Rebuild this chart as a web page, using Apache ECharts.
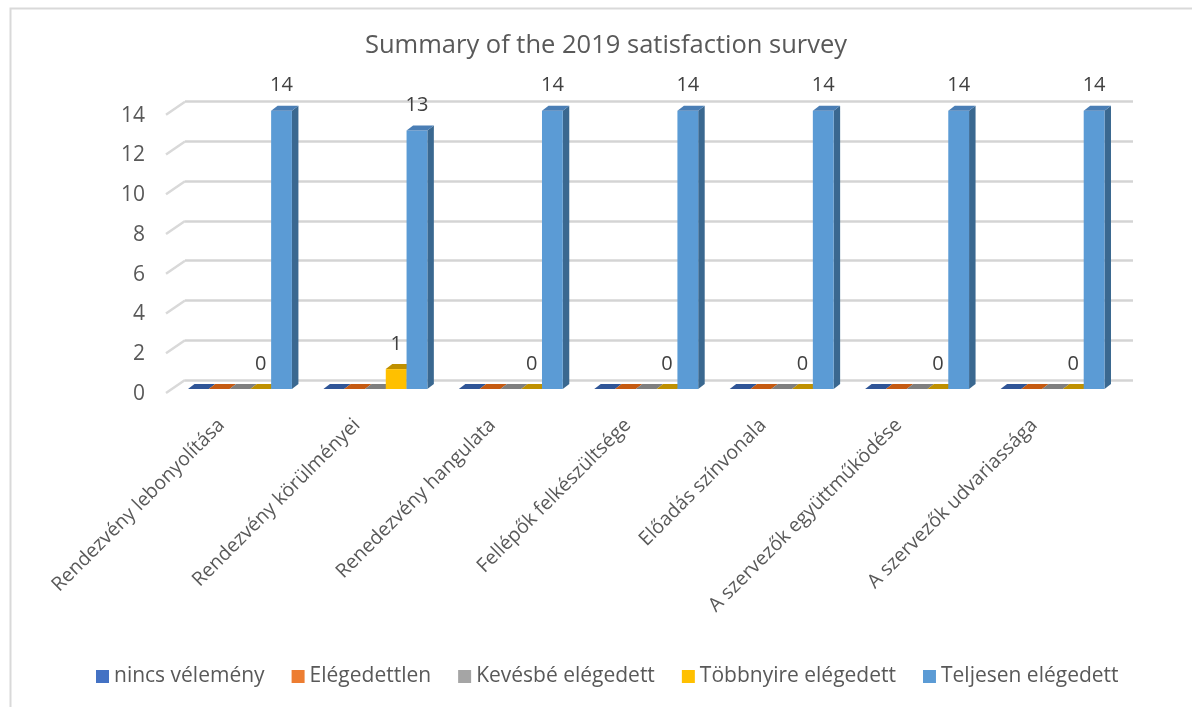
<!DOCTYPE html>
<html>
<head>
<meta charset="utf-8">
<script src="https://cdn.jsdelivr.net/npm/echarts@6/dist/echarts.min.js"></script>
<style>
  html, body { margin: 0; padding: 0; background: #ffffff; }
  #chart { width: 1192px; height: 707px; }
</style>
</head>
<body>
<div id="chart"></div>
<script>
// Survey categories (x axis)
const categories = [
  'Rendezvény lebonyolítása',
  'Rendezvény körülményei',
  'Renedezvény hangulata',
  'Fellépők felkészültsége',
  'Előadás színvonala',
  'A szervezők együttműködése',
  'A szervezők udvariassága'
];

// Answer counts per rating
const nincsVelemeny = [0, 0, 0, 0, 0, 0, 0];
const elegedettlen = [0, 0, 0, 0, 0, 0, 0];
const kevesbeElegedett = [0, 0, 0, 0, 0, 0, 0];
const tobbnyireElegedett = [0, 1, 0, 0, 0, 0, 0];
const teljesenElegedett = [14, 13, 14, 14, 14, 14, 14];

// Value axis ticks
const yTicks = [0, 2, 4, 6, 8, 10, 12, 14];

const seriesDefs = [
  { name: 'nincs vélemény', data: nincsVelemeny, front: '#4472C4', top: '#2F5597', side: '#2A4D8A', label: false },
  { name: 'Elégedettlen', data: elegedettlen, front: '#ED7D31', top: '#C55A11', side: '#A9500F', label: false },
  { name: 'Kevésbé elégedett', data: kevesbeElegedett, front: '#A5A5A5', top: '#7F7F7F', side: '#6E6E6E', label: false },
  { name: 'Többnyire elégedett', data: tobbnyireElegedett, front: '#FFC000', top: '#BF9000', side: '#A67C00', label: true },
  { name: 'Teljesen elégedett', data: teljesenElegedett, front: '#5B9BD5', top: '#4A7EB5', side: '#3A6890', label: true }
];

const TEXT_FONT = '"Open Sans", "Noto Sans", sans-serif';

// Draws one column as a box: front face, right side face and top face
function makeBarRenderer(k, def) {
  return function (params, api) {
    const cat = api.value(0);
    const v = api.value(1);
    const band = api.size([1, 0])[0];
    const base = api.coord([cat, 0]);
    const top = api.coord([cat, v]);
    const bw = band * 0.1535;
    const dx = band * 0.048;
    const dy = -5;
    const lift = 9;
    const x0 = base[0] - band * 0.478 + k * bw;
    const yb = base[1] + lift;
    const yt = top[1] + lift;
    const children = [
      {
        type: 'polygon',
        shape: { points: [[x0 + bw, yt], [x0 + bw + dx, yt + dy], [x0 + bw + dx, yb + dy], [x0 + bw, yb]] },
        style: { fill: def.side }
      },
      {
        type: 'rect',
        shape: { x: x0, y: yt, width: bw, height: yb - yt },
        style: { fill: def.front }
      },
      {
        type: 'polygon',
        shape: { points: [[x0, yt], [x0 + dx, yt + dy], [x0 + bw + dx, yt + dy], [x0 + bw, yt]] },
        style: { fill: def.top }
      }
    ];
    if (def.label) {
      children.push({
        type: 'text',
        style: {
          text: String(v),
          x: x0 + bw / 2,
          y: yt - 25,
          align: 'center',
          verticalAlign: 'middle',
          fill: '#404040',
          font: '20px ' + TEXT_FONT
        }
      });
    }
    return { type: 'group', children: children };
  };
}

// Slanted side-wall edge for each grid line, with the tick value at its front end
function renderWallEdges(params, api) {
  const v = api.value(1);
  const p = api.coord([0, v]);
  const x = params.coordSys.x;
  return {
    type: 'group',
    children: [
      {
        type: 'line',
        shape: { x1: x - 19, y1: p[1] + 13, x2: x, y2: p[1] },
        style: { stroke: '#d9d9d9', lineWidth: 2.5 }
      },
      {
        type: 'text',
        style: {
          text: String(v),
          x: x - 40,
          y: p[1] + 14,
          align: 'right',
          verticalAlign: 'middle',
          fill: '#595959',
          font: '21px ' + TEXT_FONT
        }
      }
    ]
  };
}

const series = seriesDefs.map(function (def, k) {
  return {
    name: def.name,
    type: 'custom',
    itemStyle: { color: def.front },
    renderItem: makeBarRenderer(k, def),
    data: def.data.map(function (val, i) { return [i, val]; }),
    z: 3 + k,
    silent: true
  };
});

series.unshift({
  name: 'wall',
  type: 'custom',
  renderItem: renderWallEdges,
  data: yTicks.map(function (t) { return [0, t]; }),
  z: 1,
  silent: true
});

const chart = echarts.init(document.getElementById('chart'), null, { renderer: 'canvas' });

chart.setOption({
  animation: false,
  backgroundColor: '#ffffff',
  title: {
    text: 'Summary of the 2019 satisfaction survey',
    left: 360,
    top: 28,
    textStyle: {
      fontFamily: TEXT_FONT,
      fontSize: 25.5,
      fontWeight: 'normal',
      color: '#595959'
    }
  },
  graphic: [
    {
      type: 'rect',
      left: 8,
      top: 6,
      shape: { width: 1250, height: 750 },
      style: { fill: 'none', stroke: '#d9d9d9', lineWidth: 2 },
      silent: true,
      z: -1
    }
  ],
  legend: {
    data: seriesDefs.map(function (d) { return d.name; }),
    left: 91,
    top: 661,
    icon: 'rect',
    itemWidth: 13,
    itemHeight: 13,
    itemGap: 27,
    textStyle: {
      fontFamily: TEXT_FONT,
      fontSize: 21,
      color: '#595959'
    }
  },
  grid: {
    left: 185,
    right: 59,
    top: 101.7,
    bottom: 327,
    containLabel: false
  },
  xAxis: {
    type: 'category',
    data: categories,
    axisLine: { show: false },
    axisTick: { show: false },
    axisLabel: {
      rotate: 45,
      interval: 0,
      margin: 11,
      padding: [0, 44, 0, 0],
      fontFamily: TEXT_FONT,
      fontSize: 19.5,
      color: '#595959'
    },
    splitLine: { show: false }
  },
  yAxis: {
    type: 'value',
    min: 0,
    max: 14,
    interval: 2,
    axisLine: { show: false },
    axisTick: { show: false },
    axisLabel: { show: false },
    splitLine: { lineStyle: { color: '#d4d4d4', width: 2.5 } }
  },
  series: series
});
</script>
</body>
</html>
